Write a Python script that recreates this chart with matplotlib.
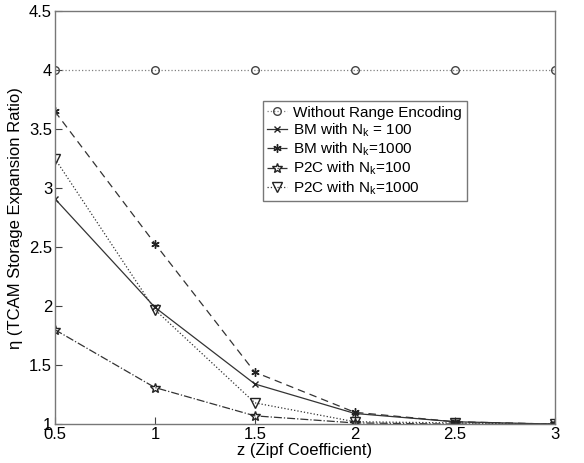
import matplotlib
matplotlib.use('Agg')
import matplotlib.pyplot as plt

plt.rcParams['font.family'] = ['Liberation Sans', 'DejaVu Sans']
plt.rcParams['mathtext.default'] = 'regular'

z = [0.5, 1.0, 1.5, 2.0, 2.5, 3.0]
no_range = [4.0, 4.0, 4.0, 4.0, 4.0, 4.0]
bm_100 = [2.91, 1.99, 1.34, 1.09, 1.02, 1.00]
bm_1000 = [3.65, 2.53, 1.44, 1.10, 1.02, 1.00]
p2c_100 = [1.80, 1.31, 1.07, 1.01, 1.00, 1.00]
p2c_1000 = [3.25, 1.97, 1.18, 1.02, 1.01, 1.00]

fig = plt.figure(figsize=(5.84, 4.63), dpi=100)
ax = fig.add_axes([0.094, 0.084, 0.856, 0.892])

ax.plot(z, no_range, ':', color='gray', lw=0.9, marker='o', ms=5.5,
        mfc='none', mec='#444444', label='Without Range Encoding')
ax.plot(z, bm_100, '-', color='#333333', lw=0.9, marker='x', ms=5,
        mec='#222222', label='BM with N$_k$ = 100')
ax.plot(z, bm_1000, '--', color='#333333', lw=0.9, dashes=(6, 4), marker=(6, 2, 0), ms=6,
        mec='#222222', label='BM with N$_k$=1000')
ax.plot(z, p2c_100, '-.', color='#333333', lw=0.9, marker='*', ms=7,
        mfc='none', mec='#222222', label='P2C with N$_k$=100')
ax.plot(z, p2c_1000, ':', color='#333333', lw=0.9, marker='v', ms=6.5,
        mfc='none', mec='#222222', label='P2C with N$_k$=1000')

ax.set_xlim(0.5, 3)
ax.set_ylim(1, 4.5)
ax.set_xticks([0.5, 1, 1.5, 2, 2.5, 3])
ax.set_xticklabels(['0.5', '1', '1.5', '2', '2.5', '3'])
ax.set_yticks([1, 1.5, 2, 2.5, 3, 3.5, 4, 4.5])
ax.set_yticklabels(['1', '1.5', '2', '2.5', '3', '3.5', '4', '4.5'])
ax.tick_params(direction='in', labelsize=12, length=5, color='#444444', pad=2)
for s in ax.spines.values():
    s.set_color('#777777')
    s.set_linewidth(1.0)

ax.set_xlabel('z (Zipf Coefficient)', fontsize=12, labelpad=1)
ax.set_ylabel('\u03b7 (TCAM Storage Expansion Ratio)', fontsize=12, labelpad=4)

leg = ax.legend(loc='upper left', bbox_to_anchor=(0.416, 0.782), fontsize=11,
                fancybox=False, framealpha=1, edgecolor='#777777',
                handlelength=1.3, handletextpad=0.4, labelspacing=0.12,
                borderpad=0.3, borderaxespad=0)
leg.get_frame().set_linewidth(1.0)

fig.savefig('out.png', dpi=100)
